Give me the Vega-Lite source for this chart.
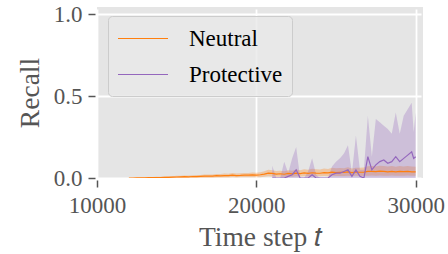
{
  "$schema": "https://vega.github.io/schema/vega-lite/v6.json",
  "width": 326,
  "height": 171,
  "autosize": {"type": "none"},
  "padding": {"left": 97, "top": 7, "right": 25, "bottom": 76},
  "background": "white",
  "config": {
    "view": {"fill": "#E5E5E5", "stroke": null},
    "font": "Liberation Serif",
    "axis": {
      "domain": false,
      "grid": true,
      "gridColor": "#FFFFFF",
      "gridOpacity": 1,
      "gridWidth": 1.8,
      "tickColor": "#555555",
      "tickSize": 7,
      "tickWidth": 1.5,
      "offset": 2,
      "labelFlush": false,
      "labelOverlap": false,
      "labelColor": "#555555",
      "labelFont": "Liberation Serif",
      "labelFontSize": 23,
      "titleFont": "Liberation Serif",
      "titleFontSize": 27.5,
      "titleFontWeight": "normal",
      "titleColor": "#555555"
    }
  },
  "datasets": {
    "d": [
      {"t":12000,"s":"Neutral","m":0,"lo":0,"hi":0},
      {"t":12250,"s":"Neutral","m":0,"lo":0,"hi":0.001},
      {"t":12500,"s":"Neutral","m":0.001,"lo":0,"hi":0.002},
      {"t":12750,"s":"Neutral","m":0.001,"lo":0,"hi":0.003},
      {"t":13000,"s":"Neutral","m":0.001,"lo":0,"hi":0.004},
      {"t":13250,"s":"Neutral","m":0.002,"lo":0,"hi":0.005},
      {"t":13500,"s":"Neutral","m":0.002,"lo":0,"hi":0.006},
      {"t":13750,"s":"Neutral","m":0.003,"lo":0,"hi":0.007},
      {"t":14000,"s":"Neutral","m":0.003,"lo":0,"hi":0.008},
      {"t":14250,"s":"Neutral","m":0.004,"lo":0,"hi":0.009},
      {"t":14500,"s":"Neutral","m":0.004,"lo":0,"hi":0.010},
      {"t":14750,"s":"Neutral","m":0.005,"lo":0,"hi":0.011},
      {"t":15000,"s":"Neutral","m":0.006,"lo":0,"hi":0.013},
      {"t":15250,"s":"Neutral","m":0.007,"lo":0,"hi":0.014},
      {"t":15500,"s":"Neutral","m":0.008,"lo":0.001,"hi":0.016},
      {"t":15750,"s":"Neutral","m":0.007,"lo":0.001,"hi":0.015},
      {"t":16000,"s":"Neutral","m":0.009,"lo":0.001,"hi":0.017},
      {"t":16250,"s":"Neutral","m":0.009,"lo":0.001,"hi":0.018},
      {"t":16500,"s":"Neutral","m":0.010,"lo":0.002,"hi":0.019},
      {"t":16750,"s":"Neutral","m":0.011,"lo":0.002,"hi":0.021},
      {"t":17000,"s":"Neutral","m":0.012,"lo":0.002,"hi":0.022},
      {"t":17250,"s":"Neutral","m":0.011,"lo":0.002,"hi":0.021},
      {"t":17500,"s":"Neutral","m":0.014,"lo":0.003,"hi":0.025},
      {"t":17750,"s":"Neutral","m":0.013,"lo":0.003,"hi":0.024},
      {"t":18000,"s":"Neutral","m":0.015,"lo":0.003,"hi":0.027},
      {"t":18250,"s":"Neutral","m":0.014,"lo":0.003,"hi":0.026},
      {"t":18500,"s":"Neutral","m":0.017,"lo":0.004,"hi":0.030},
      {"t":18750,"s":"Neutral","m":0.015,"lo":0.003,"hi":0.027},
      {"t":19000,"s":"Neutral","m":0.016,"lo":0.004,"hi":0.029},
      {"t":19250,"s":"Neutral","m":0.018,"lo":0.004,"hi":0.031},
      {"t":19500,"s":"Neutral","m":0.017,"lo":0.004,"hi":0.030},
      {"t":19750,"s":"Neutral","m":0.019,"lo":0.005,"hi":0.033},
      {"t":20000,"s":"Neutral","m":0.018,"lo":0.005,"hi":0.032},
      {"t":20250,"s":"Neutral","m":0.020,"lo":0.005,"hi":0.035},
      {"t":20500,"s":"Neutral","m":0.024,"lo":0.007,"hi":0.041},
      {"t":20750,"s":"Neutral","m":0.030,"lo":0.010,"hi":0.050},
      {"t":21000,"s":"Neutral","m":0.028,"lo":0.009,"hi":0.048},
      {"t":21250,"s":"Neutral","m":0.024,"lo":0.008,"hi":0.043},
      {"t":21500,"s":"Neutral","m":0.026,"lo":0.008,"hi":0.045},
      {"t":21750,"s":"Neutral","m":0.023,"lo":0.007,"hi":0.042},
      {"t":22000,"s":"Neutral","m":0.028,"lo":0.009,"hi":0.048},
      {"t":22250,"s":"Neutral","m":0.025,"lo":0.008,"hi":0.045},
      {"t":22500,"s":"Neutral","m":0.030,"lo":0.010,"hi":0.052},
      {"t":22750,"s":"Neutral","m":0.027,"lo":0.009,"hi":0.048},
      {"t":23000,"s":"Neutral","m":0.031,"lo":0.011,"hi":0.054},
      {"t":23250,"s":"Neutral","m":0.028,"lo":0.010,"hi":0.050},
      {"t":23500,"s":"Neutral","m":0.032,"lo":0.011,"hi":0.056},
      {"t":23750,"s":"Neutral","m":0.030,"lo":0.010,"hi":0.053},
      {"t":24000,"s":"Neutral","m":0.029,"lo":0.010,"hi":0.052},
      {"t":24250,"s":"Neutral","m":0.033,"lo":0.012,"hi":0.058},
      {"t":24500,"s":"Neutral","m":0.031,"lo":0.011,"hi":0.055},
      {"t":24750,"s":"Neutral","m":0.036,"lo":0.013,"hi":0.062},
      {"t":25000,"s":"Neutral","m":0.033,"lo":0.012,"hi":0.059},
      {"t":25250,"s":"Neutral","m":0.035,"lo":0.012,"hi":0.061},
      {"t":25500,"s":"Neutral","m":0.034,"lo":0.012,"hi":0.060},
      {"t":25750,"s":"Neutral","m":0.037,"lo":0.013,"hi":0.065},
      {"t":26000,"s":"Neutral","m":0.033,"lo":0.012,"hi":0.058},
      {"t":26250,"s":"Neutral","m":0.036,"lo":0.013,"hi":0.063},
      {"t":26500,"s":"Neutral","m":0.035,"lo":0.012,"hi":0.062},
      {"t":26750,"s":"Neutral","m":0.036,"lo":0.013,"hi":0.064},
      {"t":27000,"s":"Neutral","m":0.040,"lo":0.014,"hi":0.072},
      {"t":27250,"s":"Neutral","m":0.041,"lo":0.015,"hi":0.074},
      {"t":27500,"s":"Neutral","m":0.039,"lo":0.014,"hi":0.071},
      {"t":27750,"s":"Neutral","m":0.042,"lo":0.015,"hi":0.075},
      {"t":28000,"s":"Neutral","m":0.040,"lo":0.014,"hi":0.073},
      {"t":28250,"s":"Neutral","m":0.038,"lo":0.013,"hi":0.070},
      {"t":28500,"s":"Neutral","m":0.041,"lo":0.015,"hi":0.074},
      {"t":28750,"s":"Neutral","m":0.037,"lo":0.013,"hi":0.069},
      {"t":29000,"s":"Neutral","m":0.040,"lo":0.014,"hi":0.073},
      {"t":29250,"s":"Neutral","m":0.039,"lo":0.014,"hi":0.071},
      {"t":29500,"s":"Neutral","m":0.041,"lo":0.015,"hi":0.074},
      {"t":29750,"s":"Neutral","m":0.038,"lo":0.013,"hi":0.070},
      {"t":30000,"s":"Neutral","m":0.037,"lo":0.013,"hi":0.069},
      {"t":21000,"s":"Protective","m":0,"lo":0,"hi":0.075},
      {"t":21250,"s":"Protective","m":0,"lo":0,"hi":0},
      {"t":21500,"s":"Protective","m":0,"lo":0,"hi":0},
      {"t":21750,"s":"Protective","m":0,"lo":0,"hi":0.10},
      {"t":22000,"s":"Protective","m":0.01,"lo":0,"hi":0.03},
      {"t":22250,"s":"Protective","m":0.02,"lo":0,"hi":0.12},
      {"t":22500,"s":"Protective","m":0.05,"lo":0,"hi":0.19},
      {"t":22750,"s":"Protective","m":0,"lo":0,"hi":0},
      {"t":23000,"s":"Protective","m":0,"lo":0,"hi":0},
      {"t":23250,"s":"Protective","m":0,"lo":0,"hi":0.04},
      {"t":23500,"s":"Protective","m":0.02,"lo":0,"hi":0.12},
      {"t":23750,"s":"Protective","m":0,"lo":0,"hi":0.02},
      {"t":24000,"s":"Protective","m":0,"lo":0,"hi":0},
      {"t":24250,"s":"Protective","m":0,"lo":0,"hi":0},
      {"t":24500,"s":"Protective","m":0,"lo":0,"hi":0},
      {"t":24750,"s":"Protective","m":0.02,"lo":0,"hi":0.07},
      {"t":25000,"s":"Protective","m":0.03,"lo":0,"hi":0.10},
      {"t":25250,"s":"Protective","m":0.03,"lo":0,"hi":0.12},
      {"t":25500,"s":"Protective","m":0.04,"lo":0,"hi":0.15},
      {"t":25750,"s":"Protective","m":0.05,"lo":0,"hi":0.20},
      {"t":26000,"s":"Protective","m":0.01,"lo":0,"hi":0.03},
      {"t":26250,"s":"Protective","m":0.05,"lo":0,"hi":0.26},
      {"t":26500,"s":"Protective","m":0.01,"lo":0,"hi":0.05},
      {"t":26750,"s":"Protective","m":0,"lo":0,"hi":0.05},
      {"t":27000,"s":"Protective","m":0.13,"lo":0,"hi":0.38},
      {"t":27250,"s":"Protective","m":0.05,"lo":0,"hi":0.13},
      {"t":27500,"s":"Protective","m":0.08,"lo":0,"hi":0.36},
      {"t":27750,"s":"Protective","m":0.10,"lo":0,"hi":0.34},
      {"t":28000,"s":"Protective","m":0.11,"lo":0,"hi":0.32},
      {"t":28250,"s":"Protective","m":0.09,"lo":0,"hi":0.30},
      {"t":28500,"s":"Protective","m":0.10,"lo":0,"hi":0.27},
      {"t":28750,"s":"Protective","m":0.13,"lo":0,"hi":0.40},
      {"t":29000,"s":"Protective","m":0.10,"lo":0,"hi":0.27},
      {"t":29250,"s":"Protective","m":0.12,"lo":0,"hi":0.38},
      {"t":29500,"s":"Protective","m":0.14,"lo":0,"hi":0.42},
      {"t":29750,"s":"Protective","m":0.16,"lo":0,"hi":0.46},
      {"t":29875,"s":"Protective","m":0.12,"lo":0,"hi":0.28},
      {"t":30000,"s":"Protective","m":0.13,"lo":0,"hi":0.40}
    ]
  },
  "data": {"name": "d"},
  "encoding": {
    "x": {
      "field": "t", "type": "quantitative",
      "scale": {"domain": [10000, 30460], "nice": false, "zero": false},
      "axis": {"values": [10000, 20000, 30000], "format": "d", "title": "Time step 𝑡", "grid": true, "labelPadding": 7, "titlePadding": 6}
    },
    "color": {"field": "s", "type": "nominal",
      "scale": {"domain": ["Neutral", "Protective"], "range": ["#ff7f0e", "#9467bd"]},
      "legend": {
        "title": null,
        "orient": "none",
        "legendX": 11,
        "legendY": 9,
        "symbolType": "M-1,0L3,0",
        "symbolSize": 625,
        "symbolStrokeWidth": 1.2,
        "symbolOpacity": 1,
        "symbolFillColor": "transparent",
        "labelFont": "Liberation Serif",
        "labelFontSize": 23,
        "labelColor": "black",
        "labelOffset": 45,
        "rowPadding": 10,
        "padding": 9,
        "fillColor": "rgba(232,232,232,0.8)",
        "strokeColor": "#CCCCCC",
        "cornerRadius": 4
      }
    }
  },
  "layer": [
    {
      "mark": {"type": "area", "opacity": 0.3, "clip": true},
      "encoding": {
        "y": {"field": "lo", "type": "quantitative",
          "scale": {"domain": [0, 1.045], "nice": false},
          "axis": {"values": [0, 0.5, 1.0], "format": ".1f", "title": "Recall", "grid": true, "labelPadding": 6, "titlePadding": 9}},
        "y2": {"field": "hi"}
      }
    },
    {
      "mark": {"type": "line", "strokeWidth": 1.2, "clip": true},
      "encoding": {
        "y": {"field": "m", "type": "quantitative"}
      }
    }
  ]
}
